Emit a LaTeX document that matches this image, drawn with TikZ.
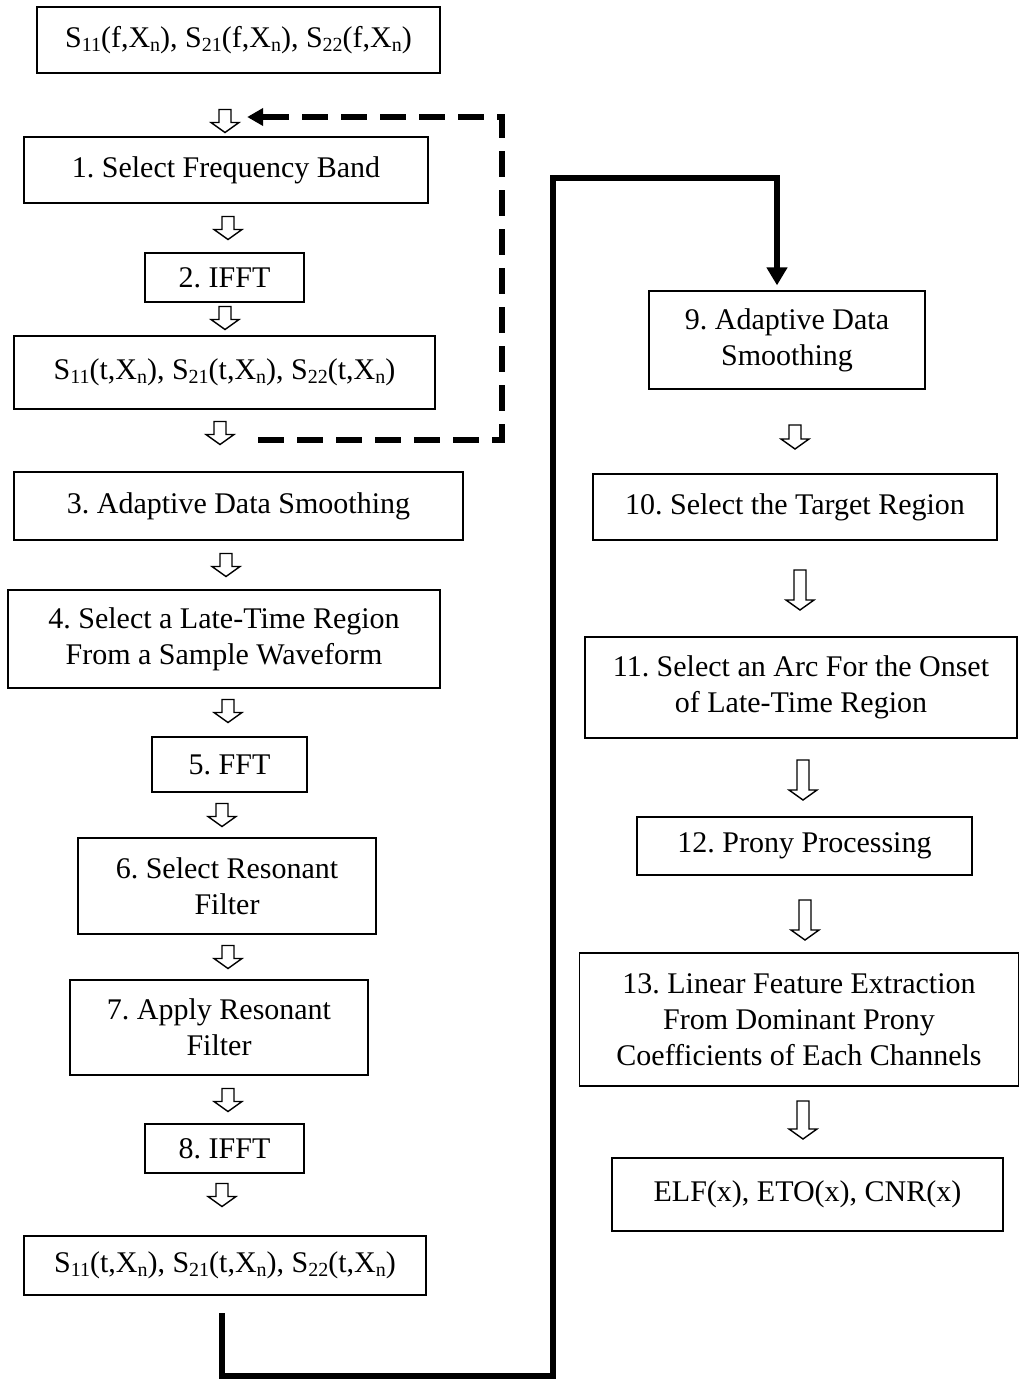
\documentclass[tikz,border=0pt]{standalone}
\usepackage{fontspec}
\setmainfont{Liberation Serif}
\usetikzlibrary{arrows.meta, positioning}
\newcommand{\sbs}[1]{\raisebox{-0.28ex}{\fontsize{20}{20}\selectfont #1}}
\frenchspacing

\begin{document}
\begin{tikzpicture}[x=1pt, y=-1pt,
  stepbox/.style={draw, line width=1.3pt, inner sep=0pt, align=center, font=\fontsize{30}{36}\selectfont},
  hollow/.style={minimum width=34, minimum height=#1+6, inner sep=0pt,
    path picture={\draw[line width=1.4pt, line join=miter] (path picture bounding box.center) ++(-6,{-#1/2}) -- ++(12,0) -- ++(0,{#1-10}) -- ++(8,0) -- ++(-14,10) -- ++(-14,-10) -- ++(8,0) -- cycle;}},
  hollow/.default=23,
  dashloop/.style={line width=6pt, dash pattern=on 26pt off 13pt, -{Triangle[length=16pt,width=17pt]}},
  thickloop/.style={line width=6.5pt, -{Triangle[length=18pt,width=20pt]}}]
\useasboundingbox (0,0) rectangle (1020,1381);

% left column
\node[stepbox, minimum width=403, minimum height=66] (sfreq) at (238.5,40) {S\sbs{11}(f,X\sbs{n}), S\sbs{21}(f,X\sbs{n}), S\sbs{22}(f,X\sbs{n})};
\node[hollow] (d0) at (225,121) {};
\node[stepbox, minimum width=404, minimum height=66] (band) at (226,170) {1. Select Frequency Band};
\node[hollow] (d1) at (228,228) {};
\node[stepbox, minimum width=159, minimum height=49] (ifft1) at (224.5,277.5) {2. IFFT};
\node[hollow] (d2) at (225,318) {};
\node[stepbox, minimum width=421, minimum height=73] (stime1) at (224.5,372.5) {S\sbs{11}(t,X\sbs{n}), S\sbs{21}(t,X\sbs{n}), S\sbs{22}(t,X\sbs{n})};
\node[hollow] (d3) at (220,433) {};
\node[stepbox, minimum width=449, minimum height=68] (smooth1) at (238.5,506) {3. Adaptive Data Smoothing};
\node[hollow] (d4) at (226,565) {};
\node[stepbox, minimum width=432, minimum height=98] (late) at (224,639) {4. Select a Late-Time Region\\From a Sample Waveform};
\node[hollow] (d5) at (228,711) {};
\node[stepbox, minimum width=155, minimum height=55] (fft) at (229.5,764.5) {5. FFT};
\node[hollow] (d6) at (222,815) {};
\node[stepbox, minimum width=298, minimum height=96] (selfilt) at (227,886) {6. Select Resonant\\Filter};
\node[hollow] (d7) at (228,957) {};
\node[stepbox, minimum width=298, minimum height=95] (appfilt) at (219,1027.5) {7. Apply Resonant\\Filter};
\node[hollow] (d8) at (228,1100) {};
\node[stepbox, minimum width=159, minimum height=49] (ifft2) at (224.5,1148.5) {8. IFFT};
\node[hollow] (d9) at (222,1195) {};
\node[stepbox, minimum width=402, minimum height=59] (stime2) at (225,1265.5) {S\sbs{11}(t,X\sbs{n}), S\sbs{21}(t,X\sbs{n}), S\sbs{22}(t,X\sbs{n})};

% right column
\node[stepbox, minimum width=276, minimum height=98] (smooth2) at (787,340) {9. Adaptive Data\\Smoothing};
\node[hollow=24] (e1) at (795,437) {};
\node[stepbox, minimum width=404, minimum height=66] (target) at (795,507) {10. Select the Target Region};
\node[hollow=40] (e2) at (800,590) {};
\node[stepbox, minimum width=432, minimum height=101] (arc) at (801,687.5) {11. Select an Arc For the Onset\\of Late-Time Region};
\node[hollow=40] (e3) at (803,780) {};
\node[stepbox, minimum width=335, minimum height=58] (prony) at (804.5,846) {12. Prony Processing};
\node[hollow=40] (e4) at (805,920) {};
\node[stepbox, minimum width=439, minimum height=133] (feat) at (799,1019.5) {13. Linear Feature Extraction\\From Dominant Prony\\Coefficients of Each Channels};
\node[hollow=38] (e5) at (803,1120) {};
\node[stepbox, minimum width=391, minimum height=73] (outp) at (807.5,1194.5) {ELF(x), ETO(x), CNR(x)};

% feedback loop (dashed)
\coordinate (dashturn) at (502,440);
\draw[dashloop, shorten <=21pt, shorten >=5pt] (dashturn -| d3.east) -- (dashturn) |- ([yshift=4pt]d0.east);

% link to right column
\coordinate (loopstart) at (222,1313);
\coordinate (lowturn) at (553,1376);
\coordinate (highturn) at (553,178);
\draw[thickloop, shorten >=5pt] (loopstart) |- (lowturn) -- (highturn) -| ([xshift=-10pt]smooth2.north);
\end{tikzpicture}
\end{document}
